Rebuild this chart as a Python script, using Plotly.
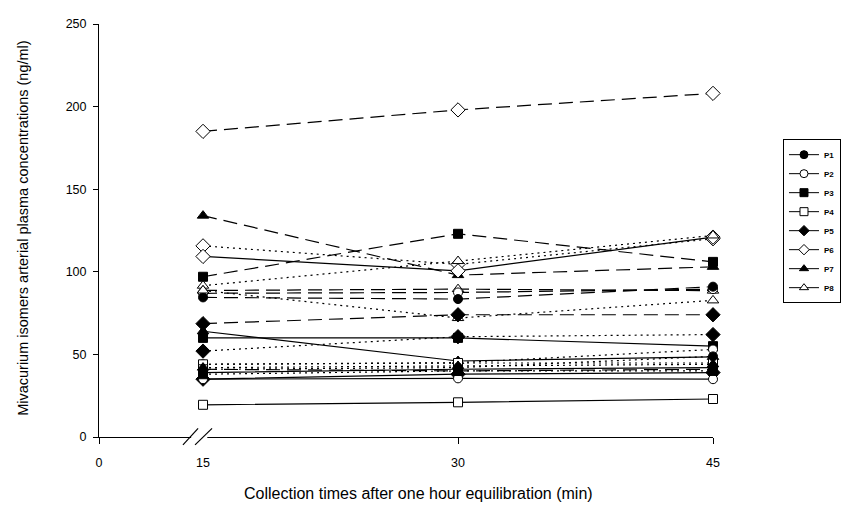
import plotly.graph_objects as go

times = [15, 30, 45]
x_origin = 8.88  # axis start shown as "0" (broken axis)
x_ticks = [x_origin, 15, 30, 45]
x_ticktext = ["0", "15", "30", "45"]
y_ticks = [0, 50, 100, 150, 200, 250]

patients = ["P1", "P2", "P3", "P4", "P5", "P6", "P7", "P8"]

# series: patient, line style, values at 15/30/45 min
series_patient = [
    "P6", "P7", "P3", "P6", "P6", "P8", "P8", "P2", "P1", "P8",
    "P5", "P7", "P3", "P5", "P2", "P4", "P1", "P1", "P5", "P2",
    "P4", "P4", "P7", "P3",
]
series_style = [
    "dash", "dash", "dash", "dot", "solid", "dot", "dash", "dash", "dash", "dot",
    "dash", "solid", "solid", "dot", "dot", "dot", "solid", "dot", "solid", "solid",
    "solid", "dash", "dot", "dot",
]
series_values = [
    [185, 198, 208],
    [134, 98, 103],
    [97, 123, 106],
    [115.7, 104.5, 120],
    [109.3, 100.6, 121],
    [91.6, 106.5, 122],
    [88.7, 89.5, 88.6],
    [87, 87.5, 89.5],
    [84.5, 83.5, 91],
    [88.7, 72, 82.7],
    [68.6, 74, 74],
    [64, 46, 48.5],
    [60, 60, 55],
    [52, 60.7, 62],
    [44, 45, 53],
    [44, 44.8, 44.8],
    [39, 41, 42],
    [41, 42, 48.8],
    [35, 38, 39],
    [35, 35.5, 35],
    [19.5, 21, 23],
    [41, 40, 41],
    [42, 43, 44],
    [38, 40, 40],
]

symbols = {
    "P1": ("circle", "black"), "P2": ("circle", "white"),
    "P3": ("square", "black"), "P4": ("square", "white"),
    "P5": ("diamond", "black"), "P6": ("diamond", "white"),
    "P7": ("triangle-up", "black"), "P8": ("triangle-up", "white"),
}
dash_map = {"solid": "solid", "dash": "14px,7px", "dot": "2px,4px"}
sizes = {"circle": 9, "square": 9, "diamond": 11, "triangle-up": 10}

fig = go.Figure()
for p, st, vals in zip(series_patient, series_style, series_values):
    sym, fill = symbols[p]
    fig.add_trace(go.Scatter(
        x=times, y=vals, mode="lines+markers", showlegend=False,
        line=dict(color="black", width=1.2, dash=dash_map[st]),
        marker=dict(symbol=sym, size=sizes[sym], color=fill,
                    line=dict(color="black", width=1)),
        cliponaxis=False,
    ))

for p in patients:
    sym, fill = symbols[p]
    fig.add_trace(go.Scatter(
        x=[None], y=[None], mode="lines+markers", name=p,
        line=dict(color="black", width=1),
        marker=dict(symbol=sym, size=8, color=fill,
                    line=dict(color="black", width=1)),
    ))

font = "Arial, Liberation Sans, sans-serif"
fig.update_layout(
    width=860, height=509,
    margin=dict(l=91, r=155, t=9, b=80),
    paper_bgcolor="white", plot_bgcolor="white",
    font=dict(family=font, size=12, color="black"),
    xaxis=dict(range=[x_origin, 45], tickvals=x_ticks, ticktext=x_ticktext,
               showgrid=False, zeroline=False, showline=True, linecolor="black",
               linewidth=1, ticks="outside", ticklen=6, tickcolor="black",
               ticklabelstandoff=8, tickfont=dict(size=12.5)),
    yaxis=dict(range=[0, 250], tickvals=y_ticks, showgrid=False, zeroline=False,
               showline=True, linecolor="black", linewidth=1, ticks="outside",
               ticklen=5, tickcolor="black", ticklabelstandoff=4,
               tickfont=dict(size=12.5)),
    legend=dict(x=1.114, y=0.5226, xanchor="left", yanchor="middle",
                bordercolor="black", borderwidth=1, bgcolor="white",
                font=dict(size=8, family=font, weight="bold"),
                itemwidth=30, tracegroupgap=0),
    showlegend=True,
)

# axis break: white gap and two slashes
fig.add_shape(type="rect", xref="x", yref="paper", x0=14.3, x1=15.25,
              y0=-0.03, y1=0.006, fillcolor="white", line=dict(width=0), layer="above")
for x0, x1 in [(13.82, 14.71), (14.53, 15.53)]:
    fig.add_shape(type="line", xref="x", yref="paper", x0=x0, x1=x1,
                  y0=-0.019, y1=0.021, line=dict(color="black", width=1.2), layer="above")

fig.add_annotation(text="Collection times after one hour equilibration (min)",
                   xref="paper", yref="paper", x=(418 - 99) / 614, y=-0.138,
                   xanchor="center", yanchor="middle", showarrow=False,
                   font=dict(size=16, family=font))
fig.add_annotation(text="Mivacurium isomers arterial plasma concentrations (ng/ml)",
                   xref="paper", yref="paper", x=-0.125, y=0.507, textangle=-90,
                   xanchor="center", yanchor="middle", showarrow=False,
                   font=dict(size=14.5, family=font))

fig.write_html("out.html")
